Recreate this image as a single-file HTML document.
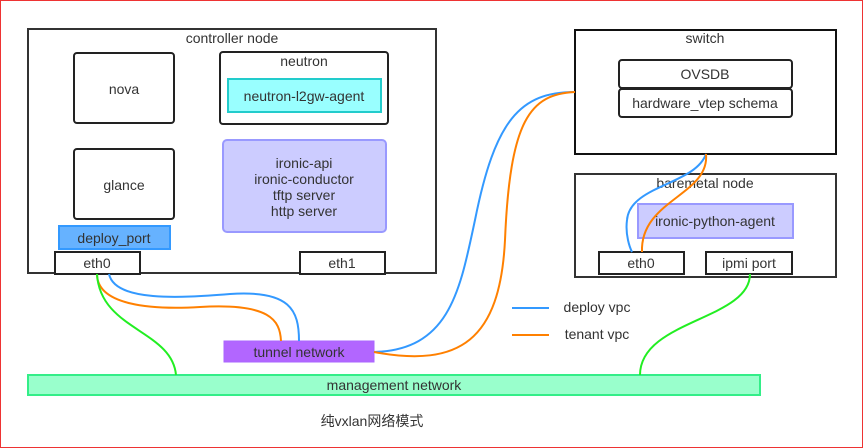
<!DOCTYPE html>
<html><head><meta charset="utf-8"><style>
html,body{margin:0;padding:0;background:#fff}
svg{display:block}
text{font-family:"Liberation Sans","Noto Sans CJK SC",sans-serif;font-size:14px;fill:#333;text-anchor:middle}
</style></head><body>
<svg width="864" height="448" viewBox="0 0 864 448" xmlns="http://www.w3.org/2000/svg">
<rect x="0.5" y="0.5" width="862" height="447" fill="#fff" stroke="#ee3333" stroke-width="1"/>
<rect x="28" y="29" width="408" height="244" fill="#fff" stroke="#333" stroke-width="2"/>
<text x="232" y="43">controller node</text>
<rect x="74" y="53" width="100" height="70" rx="3" fill="#fff" stroke="#222" stroke-width="2"/>
<text x="124" y="94">nova</text>
<rect x="220" y="52" width="168" height="72" rx="3" fill="#fff" stroke="#222" stroke-width="2"/>
<text x="304" y="66">neutron</text>
<rect x="228" y="79" width="153" height="33" fill="#99ffff" stroke="#22cccc" stroke-width="2"/>
<text x="304" y="101">neutron-l2gw-agent</text>
<rect x="74" y="149" width="100" height="70" rx="3" fill="#fff" stroke="#222" stroke-width="2"/>
<text x="124" y="190">glance</text>
<rect x="223" y="140" width="163" height="92" rx="4" fill="#ccccff" stroke="#9999ff" stroke-width="2"/>
<text x="304" y="168">ironic-api</text>
<text x="304" y="184">ironic-conductor</text>
<text x="304" y="200">tftp server</text>
<text x="304" y="216">http server</text>
<rect x="59" y="226" width="111" height="23" fill="#66b2ff" stroke="#3399ff" stroke-width="2"/>
<text x="114" y="243">deploy_port</text>
<rect x="55" y="252" width="85" height="22" fill="#fff" stroke="#222" stroke-width="2"/>
<text x="97" y="268">eth0</text>
<rect x="300" y="252" width="85" height="22" fill="#fff" stroke="#222" stroke-width="2"/>
<text x="342" y="268">eth1</text>
<rect x="575" y="30" width="261" height="124" fill="#fff" stroke="#111" stroke-width="2"/>
<text x="705" y="43">switch</text>
<rect x="619" y="60" width="173" height="28" rx="3" fill="#fff" stroke="#222" stroke-width="2"/>
<text x="705" y="79">OVSDB</text>
<rect x="619" y="89" width="173" height="28" rx="3" fill="#fff" stroke="#222" stroke-width="2"/>
<text x="705" y="108">hardware_vtep schema</text>
<rect x="575" y="174" width="261" height="103" fill="#fff" stroke="#333" stroke-width="2"/>
<text x="705" y="188">baremetal node</text>
<rect x="638" y="204" width="155" height="34" fill="#ccccff" stroke="#9999ff" stroke-width="2"/>
<text x="715" y="226">ironic-python-agent</text>
<rect x="599" y="252" width="85" height="22" fill="#fff" stroke="#222" stroke-width="2"/>
<text x="641" y="268">eth0</text>
<rect x="706" y="252" width="86" height="22" fill="#fff" stroke="#222" stroke-width="2"/>
<text x="749" y="268">ipmi port</text>
<rect x="224" y="341" width="150" height="21" fill="#b266ff" stroke="#aa66ff" stroke-width="1"/>
<text x="299" y="357">tunnel network</text>
<rect x="28" y="375" width="732" height="20" fill="#99ffcc" stroke="#33ee88" stroke-width="2"/>
<text x="394" y="390">management network</text>
<text x="372" y="426">纯vxlan网络模式</text>
<line x1="512" y1="308" x2="549" y2="308" stroke="#3399ff" stroke-width="2"/>
<text x="597" y="312">deploy vpc</text>
<line x1="512" y1="335" x2="549" y2="335" stroke="#ff8000" stroke-width="2"/>
<text x="597" y="339">tenant vpc</text>
<g fill="none" stroke-width="2">
<path d="M109,274 C115,302 180,298 230,294 C290,290 299,310 299,341" stroke="#3399ff"/>
<path d="M97,274 C97,305 150,310 200,307 C270,303 280,320 281,341" stroke="#ff8000"/>
<path d="M97,274 C100,330 172,330 176,375" stroke="#22ee22"/>
<path d="M374,352 C450,350 460,290 475,220 C495,120 520,92 575,92" stroke="#3399ff"/>
<path d="M374,352 C460,368 500,340 505,240 C510,120 530,94 575,92" stroke="#ff8000"/>
<path d="M706,154 C695,185 630,185 627,220 C625,235 630,248 632,252" stroke="#3399ff"/>
<path d="M706,154 C710,195 640,200 642,252" stroke="#ff8000"/>
<path d="M750,274 C750,320 640,320 640,375" stroke="#22ee22"/>
</g>
</svg>
</body></html>
